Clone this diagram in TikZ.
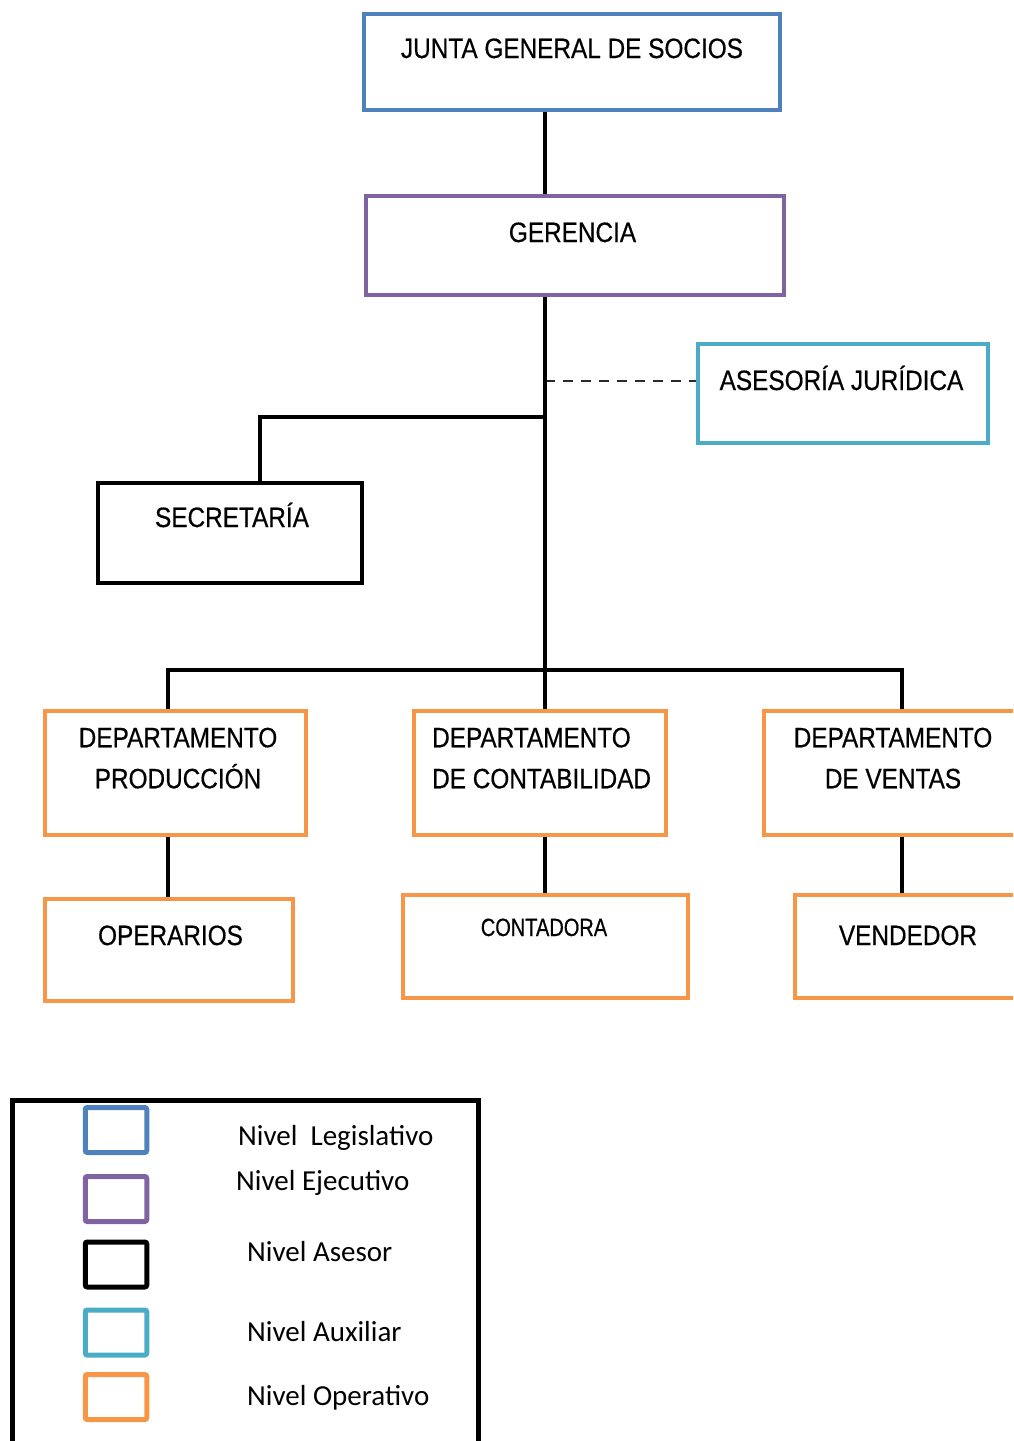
\documentclass[tikz,border=0pt]{standalone}
\usepackage{fontspec}
\newfontfamily\chartfont[FakeStretch=0.87, FakeBold=0.5]{Liberation Sans}
\newfontfamily\contfont[FakeStretch=0.8, FakeBold=0.5]{Liberation Sans}
\newfontfamily\legendfont{Carlito}
\definecolor{legisBlue}{HTML}{4F81BD}
\definecolor{ejecPurple}{HTML}{8064A2}
\definecolor{auxCyan}{HTML}{4BACC6}
\definecolor{operOrange}{HTML}{F79646}
\definecolor{adviceGray}{HTML}{2A2A2A}
\tikzset{
  unit/.style={draw=#1, line width=4pt, line join=miter, inner sep=0pt},
  unitname/.style={font=\chartfont\fontsize{28}{41}\selectfont, anchor=base, inner sep=0pt, align=center},
  link/.style={line width=4.5pt, line join=miter},
  advice/.style={draw=adviceGray, line width=2.5pt, dash pattern=on 10pt off 8pt},
  keybox/.style={draw=#1, line width=5pt, rounded corners=2pt, minimum width=61.5pt, minimum height=45pt, inner sep=0pt},
  keytext/.style={font=\legendfont\fontsize{29}{35}\selectfont, anchor=base west, inner sep=0pt}
}
\begin{document}
\begin{tikzpicture}[x=1pt, y=-1pt]
  \useasboundingbox (0,0) rectangle (1013,1441);
  \clip (0,0) rectangle (1013,1441);
  % levels
  \node[unit=legisBlue, minimum width=416pt, minimum height=96pt] (junta) at (572,62) {};
  \node[unit=ejecPurple, minimum width=418pt, minimum height=99pt] (gerencia) at (575,245.5) {};
  \node[unit=auxCyan, minimum width=290pt, minimum height=99pt] (asesoria) at (843,393) {};
  \node[unit=black, minimum width=263.5pt, minimum height=99.5pt] (secretaria) at (230,533) {};
  % departments
  \node[unit=operOrange, minimum width=261pt, minimum height=124.5pt] (produccion) at (175.5,773) {};
  \node[unit=operOrange, minimum width=252pt, minimum height=124.5pt] (contabilidad) at (540,773) {};
  \node[unit=operOrange, minimum width=260pt, minimum height=124.5pt] (ventas) at (894,773) {};
  \node[unit=operOrange, minimum width=248pt, minimum height=102pt] (operarios) at (169,950) {};
  \node[unit=operOrange, minimum width=285pt, minimum height=103pt] (contadora) at (545.5,946.5) {};
  \node[unit=operOrange, minimum width=226pt, minimum height=103pt] (vendedor) at (908,946.5) {};
  % names
  \node[unitname] (juntaT) at (572,58) {JUNTA GENERAL DE SOCIOS};
  \node[unitname] (gerenciaT) at (572.5,242) {GERENCIA};
  \node[unitname] (asesoriaT) at (841.5,390) {ASESORÍA JURÍDICA};
  \node[unitname] (secretariaT) at (232,527) {SECRETARÍA};
  \node[unitname, anchor=north] (produccionT) at (178,727.5) {DEPARTAMENTO\\PRODUCCIÓN};
  \node[unitname, anchor=north west, align=left] (contabilidadT) at (432,727.5) {DEPARTAMENTO\\DE CONTABILIDAD};
  \node[unitname, anchor=north] (ventasT) at (893,727.5) {DEPARTAMENTO\\DE VENTAS};
  \node[unitname] (operariosT) at (170.5,945) {OPERARIOS};
  \node[unitname, font=\contfont\fontsize{25}{30}\selectfont] (contadoraT) at (544,936) {CONTADORA};
  \node[unitname] (vendedorT) at (908,945) {VENDEDOR};
  % joints
  \coordinate (spine) at (545,670);
  \coordinate (asesorJ) at (545,381);
  \coordinate (secretJ) at (545,417);
  \coordinate (secretK) at (260,417);
  \coordinate (busL) at (168,670);
  \coordinate (busR) at (902,670);
  % connectors
  \draw[advice] (asesorJ) -- (asesorJ -| asesoria.west);
  \draw[link] (junta.south -| spine) -- (gerencia.north -| spine);
  \draw[link] (gerencia.south -| spine) -- (spine |- contabilidad.north);
  \draw[link] (secretJ) -- (secretK) -- (secretK |- secretaria.north);
  \draw[link] (busL |- produccion.north) -- (busL) -- (busR) -- (busR |- ventas.north);
  \draw[link] (produccion.south -| busL) -- (operarios.north -| busL);
  \draw[link] (contabilidad.south -| spine) -- (contadora.north -| spine);
  \draw[link] (ventas.south -| busR) -- (vendedor.north -| busR);
  % legend
  \node[draw, line width=5pt, inner sep=0pt, minimum width=466pt, minimum height=400pt, anchor=north west] (legend) at (10,1098) {};
  \node[keybox=legisBlue] (keyLegis) at (116,1130) {};
  \node[keybox=ejecPurple] (keyEjec) at (116,1199) {};
  \node[keybox=black] (keyAsesor) at (116,1264.5) {};
  \node[keybox=auxCyan] (keyAux) at (116,1332.5) {};
  \node[keybox=operOrange] (keyOper) at (116,1397) {};
  \node[keytext] (txtLegis) at (238,1145) {Nivel\ \ Legislativo};
  \node[keytext] (txtEjec) at (236,1190) {Nivel Ejecutivo};
  \node[keytext] (txtAsesor) at (247,1261) {Nivel Asesor};
  \node[keytext] (txtAux) at (247,1341) {Nivel Auxiliar};
  \node[keytext] (txtOper) at (247,1405) {Nivel Operativo};
\end{tikzpicture}
\end{document}
